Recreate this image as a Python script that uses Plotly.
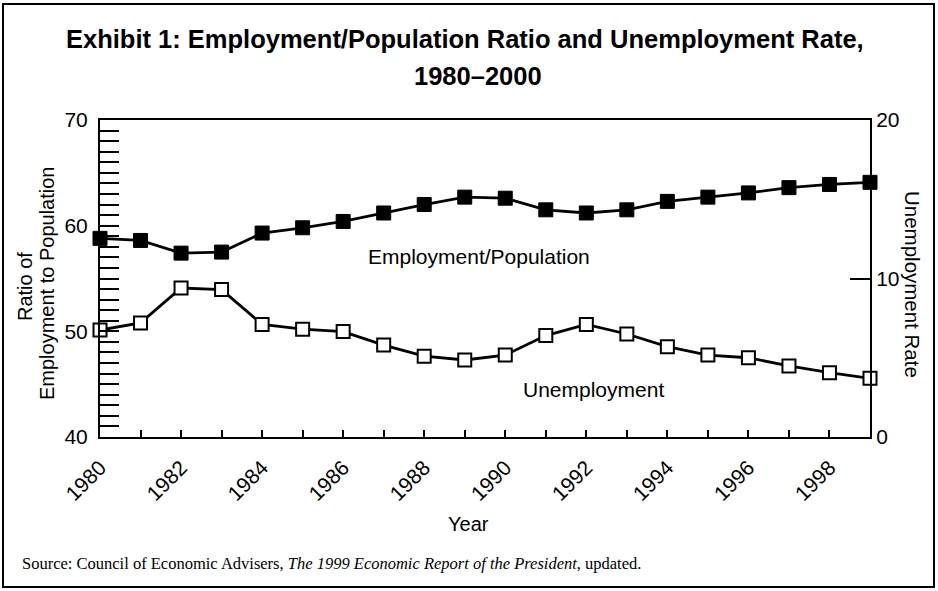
import plotly.graph_objects as go

years = list(range(1980, 2000))
emp_pop = [58.8, 58.6, 57.4, 57.5, 59.3, 59.8, 60.4, 61.2, 62.0, 62.7,
           62.6, 61.5, 61.2, 61.5, 62.3, 62.7, 63.1, 63.6, 63.9, 64.1]
unemp = [6.75, 7.2, 9.4, 9.3, 7.1, 6.8, 6.65, 5.8, 5.1, 4.86,
         5.17, 6.4, 7.1, 6.5, 5.7, 5.17, 5.0, 4.48, 4.06, 3.7]
year_ticks = list(range(1980, 2000, 2))
year_labels = [str(y) for y in year_ticks]

W, H = 938, 591
L, R, T, B = 100, 870, 120, 437
SANS = "Liberation Sans, Arial, Helvetica, sans-serif"
SERIF = "Liberation Serif, Times New Roman, serif"


def px(x):
    return (x - L) / (R - L)


def py(y):
    return (B - y) / (B - T)


fig = go.Figure()
fig.add_trace(go.Scatter(
    x=years, y=emp_pop, mode="lines+markers", cliponaxis=False,
    line=dict(color="black", width=2.8),
    marker=dict(symbol="square", size=14, color="black",
                line=dict(color="black", width=1)),
    showlegend=False))
fig.add_trace(go.Scatter(
    x=years, y=unemp, mode="lines+markers", yaxis="y2", cliponaxis=False,
    line=dict(color="black", width=2.8),
    marker=dict(symbol="square", size=13, color="white",
                line=dict(color="black", width=2)),
    showlegend=False))

fig.update_layout(
    width=W, height=H,
    margin=dict(l=L, r=W - R, t=T, b=H - B),
    paper_bgcolor="white", plot_bgcolor="white",
    font=dict(family=SANS, color="black", size=20),
    xaxis=dict(range=[1980, 1999], tickvals=year_ticks, ticktext=year_labels,
               tickangle=-45, ticks="inside", ticklen=7, tickwidth=1.5,
               tickcolor="black", ticklabelstandoff=8,
               minor=dict(dtick=1, tick0=1980, ticks="inside", ticklen=7,
                          tickwidth=1.5, tickcolor="black"),
               showline=True, linecolor="black", linewidth=2, mirror=True,
               showgrid=False, zeroline=False,
               tickfont=dict(size=21, family=SANS)),
    yaxis=dict(range=[40, 70], tickvals=[40, 50, 60, 70], ticks="inside",
               ticklen=19, tickwidth=2, tickcolor="black",
               ticklabelstandoff=6,
               minor=dict(dtick=1, tick0=40, ticks="inside", ticklen=19,
                          tickwidth=2, tickcolor="black"),
               showline=True, linecolor="black", linewidth=2,
               showgrid=False, zeroline=False,
               tickfont=dict(size=21, family=SANS)),
    yaxis2=dict(range=[0, 20], tickvals=[0, 10, 20], overlaying="y",
                side="right", ticks="inside", ticklen=20, tickwidth=2,
                tickcolor="black", showline=True, linecolor="black",
                linewidth=2, showgrid=False, zeroline=False,
                tickfont=dict(size=21, family=SANS)),
)

ann = [
    dict(x=px(465), y=py(39), text="<b>Exhibit 1: Employment/Population Ratio and Unemployment Rate,</b>",
         font=dict(size=25.5, family=SANS)),
    dict(x=px(478), y=py(76), text="<b>1980–2000</b>", font=dict(size=25.5, family=SANS)),
    dict(x=px(25), y=py(287), text="Ratio of", textangle=-90, font=dict(size=20)),
    dict(x=px(47), y=py(284), text="Employment to Population", textangle=-90, font=dict(size=20)),
    dict(x=px(913), y=py(284), text="Unemployment Rate", textangle=90, font=dict(size=20.5)),
    dict(x=px(468), y=py(524), text="Year", font=dict(size=20)),
    dict(x=px(479), y=py(256), text="Employment/Population", font=dict(size=21)),
    dict(x=px(593), y=py(389), text="Unemployment", font=dict(size=21)),
    dict(x=px(20), y=py(563), xanchor="left",
         text="Source: Council of Economic Advisers, <i>The 1999 Economic Report of the President</i>, updated.",
         font=dict(size=16.5, family=SERIF)),
]
for a in ann:
    base = dict(xref="paper", yref="paper", showarrow=False, xanchor="center",
                yanchor="middle")
    base.update(a)
    fig.add_annotation(**base)

fig.add_shape(type="rect", xref="paper", yref="paper",
              x0=px(3), x1=px(934), y0=py(587), y1=py(4),
              line=dict(color="black", width=2), layer="above")

fig.write_html("out.html", config={"displayModeBar": False},
               post_script="document.body.style.margin='0';document.body.style.overflow='hidden';")
